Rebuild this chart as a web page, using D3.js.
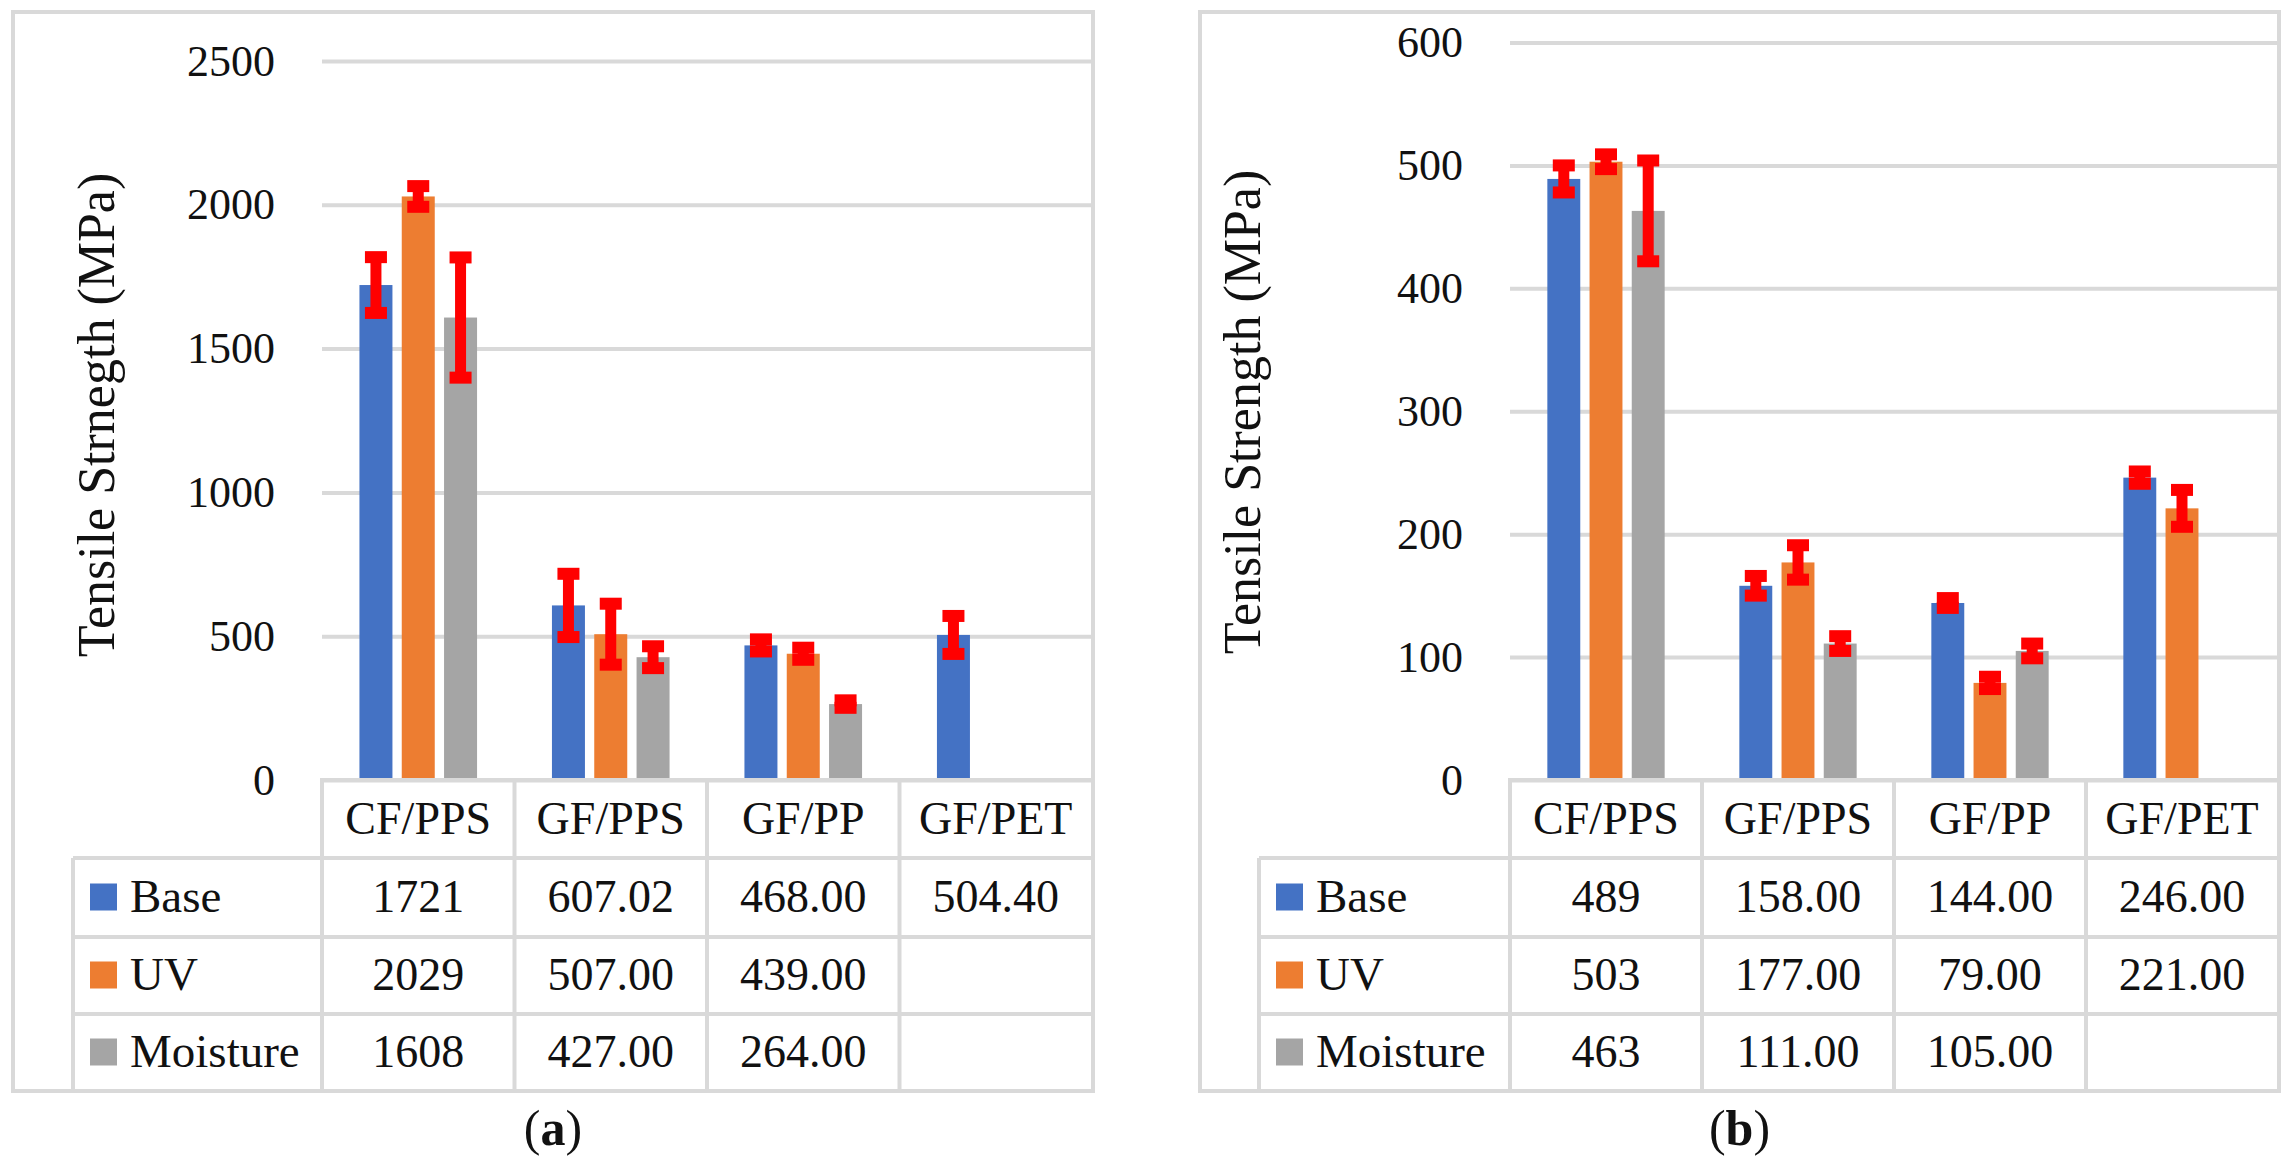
<!DOCTYPE html>
<html>
<head>
<meta charset="utf-8">
<script src="https://cdn.jsdelivr.net/npm/d3@7"></script>
<style>
  body { margin: 0; background: #fff; }
  svg text { font-family: "Liberation Serif", "DejaVu Serif", "Noto Serif", "Times New Roman", serif; fill: #111; }
</style>
</head>
<body>
<div id="chart"></div>
<script>
// ---- data ----
var categories = ["CF/PPS", "GF/PPS", "GF/PP", "GF/PET"];
var seriesNames = ["Base", "UV", "Moisture"];
var tableFormats = ["d", ".2f", ".2f", ".2f"];

// (a)
var baseA = [1721, 607.02, 468.00, 504.40];
var uvA = [2029, 507.00, 439.00, null];
var moistA = [1608, 427.00, 264.00, null];
var baseErrA = [97, 110, 21, 66];
var uvErrA = [36, 106, 21, null];
var moistErrA = [209, 38, 13, null];
var ticksA = [0, 500, 1000, 1500, 2000, 2500];

// (b)
var baseB = [489, 158.00, 144.00, 246.00];
var uvB = [503, 177.00, 79.00, 221.00];
var moistB = [463, 111.00, 105.00, null];
var baseErrB = [11, 8, 4, 5];
var uvErrB = [6, 14, 5, 15];
var moistErrB = [41, 6, 6, null];
var ticksB = [0, 100, 200, 300, 400, 500, 600];

// ---- style ----
var colors = ["#4472C4", "#ED7D31", "#A5A5A5"];
var gridColor = "#D9D9D9";
var errColor = "#FF0000";
var serif = "'Liberation Serif', 'DejaVu Serif', 'Noto Serif', serif";

var W = 2291, H = 1166;
var svg = d3.select("#chart").append("svg")
  .attr("width", W).attr("height", H)
  .attr("font-family", serif);

svg.append("rect").attr("width", W).attr("height", H).style("fill", "#fff");

var panels = [
  { left: 13, top: 12, right: 1093, bottom: 1091, plotL: 322, plotR: 1092, legendL: 73,
    yTop: 61, max: 2500, ticks: ticksA, titleX: 101, titleY: 415,
    title: "Tensile Strnegth (MPa)", label: "a",
    values: [baseA, uvA, moistA], errors: [baseErrA, uvErrA, moistErrA] },
  { left: 1200, top: 12, right: 2279, bottom: 1091, plotL: 1510, plotR: 2278, legendL: 1259,
    yTop: 42.5, max: 600, ticks: ticksB, titleX: 1247, titleY: 412,
    title: "Tensile Strength (MPa)", label: "b",
    values: [baseB, uvB, moistB], errors: [baseErrB, uvErrB, moistErrB] }
];

var axisY = 780;              // zero line / top of the data table
var rowLines = [858, 937, 1014];
var fontSize = 46;

var add_text = function(sel) {
  return sel.append("text").style("font-family", serif).style("fill", "#111");
};

var draw_panel = function(p) {
  var g = svg.append("g");

  var y = d3.scaleLinear().domain([0, p.max]).range([axisY, p.yTop]);
  var x0 = d3.scaleBand().domain(categories).range([p.plotL, p.plotR]).padding(0);
  var x1 = d3.scaleBand().domain(seriesNames).range([0, x0.bandwidth()])
    .paddingInner(0.22).paddingOuter(0.885);

  // outer frame
  g.append("rect")
    .attr("x", p.left).attr("y", p.top)
    .attr("width", p.right - p.left).attr("height", p.bottom - p.top)
    .style("fill", "none").style("stroke", gridColor).style("stroke-width", 4);

  // gridlines + tick labels
  var ax = g.append("g")
    .attr("transform", "translate(" + p.plotL + ",0)")
    .call(d3.axisLeft(y).tickValues(p.ticks).tickFormat(d3.format("d"))
      .tickSize(-(p.plotR - p.plotL)).tickPadding(47));
  ax.attr("font-family", serif).attr("font-size", 44);
  ax.select(".domain").remove();
  ax.selectAll(".tick line").style("stroke", gridColor).style("stroke-width", 4);
  ax.selectAll(".tick text")
    .style("font-size", "44px")
    .style("font-family", serif)
    .style("fill", "#111");

  // y axis title
  add_text(g)
    .attr("transform", "translate(" + p.titleX + "," + p.titleY + ") rotate(-90)")
    .attr("text-anchor", "middle")
    .attr("dy", "0.25em")
    .style("font-size", "52px")
    .text(p.title);

  // bars
  var flat = [];
  seriesNames.forEach(function(s, si) {
    categories.forEach(function(c, ci) {
      var v = p.values[si][ci];
      if (v != null) flat.push({ s: s, si: si, c: c, v: v, e: p.errors[si][ci] });
    });
  });

  g.selectAll(".bar").data(flat).enter().append("rect")
    .attr("class", "bar")
    .attr("x", function(d) { return x0(d.c) + x1(d.s); })
    .attr("width", x1.bandwidth())
    .attr("y", function(d) { return y(d.v); })
    .attr("height", function(d) { return axisY - y(d.v); })
    .style("fill", function(d) { return colors[d.si]; });

  // error bars
  var cx = function(d) { return x0(d.c) + x1(d.s) + x1.bandwidth() / 2; };
  var eb = g.selectAll(".err").data(flat).enter().append("g").attr("class", "err");
  eb.append("line")
    .attr("x1", cx).attr("x2", cx)
    .attr("y1", function(d) { return y(d.v + d.e); })
    .attr("y2", function(d) { return y(d.v - d.e); })
    .style("stroke", errColor).style("stroke-width", 11);
  [1, -1].forEach(function(sign) {
    eb.append("rect")
      .attr("x", function(d) { return cx(d) - 11; })
      .attr("y", function(d) { return y(d.v + sign * d.e) - 6; })
      .attr("width", 22).attr("height", 12)
      .style("fill", errColor);
  });

  // data table lines
  var tl = g.append("g").style("stroke", gridColor).style("stroke-width", 4);
  tl.append("line").attr("x1", p.plotL - 2).attr("x2", p.plotR)
    .attr("y1", axisY).attr("y2", axisY);
  rowLines.forEach(function(ry) {
    tl.append("line").attr("x1", p.legendL).attr("x2", p.plotR).attr("y1", ry).attr("y2", ry);
  });
  tl.append("line").attr("x1", p.legendL).attr("x2", p.legendL)
    .attr("y1", rowLines[0]).attr("y2", p.bottom);
  categories.forEach(function(c) {
    tl.append("line").attr("x1", x0(c)).attr("x2", x0(c)).attr("y1", axisY).attr("y2", p.bottom);
  });

  // header row
  var headerY = (axisY + rowLines[0]) / 2;
  categories.forEach(function(c) {
    add_text(g)
      .attr("x", x0(c) + x0.bandwidth() / 2)
      .attr("y", headerY)
      .attr("dy", "0.32em")
      .attr("text-anchor", "middle")
      .style("font-size", fontSize + "px")
      .text(c);
  });

  // rows
  var rowEdges = rowLines.concat([p.bottom]);
  seriesNames.forEach(function(s, si) {
    var ry = (rowEdges[si] + rowEdges[si + 1]) / 2;
    g.append("rect")
      .attr("x", p.legendL + 17).attr("y", ry - 14)
      .attr("width", 27).attr("height", 27)
      .style("fill", colors[si]);
    add_text(g)
      .attr("x", p.legendL + 57).attr("y", ry).attr("dy", "0.3em")
      .style("font-size", "47px")
      .text(s);
    categories.forEach(function(c, ci) {
      var v = p.values[si][ci];
      if (v == null) return;
      add_text(g)
        .attr("x", x0(c) + x0.bandwidth() / 2).attr("y", ry).attr("dy", "0.32em")
        .attr("text-anchor", "middle")
        .style("font-size", fontSize + "px")
        .text(d3.format(tableFormats[ci])(v));
    });
  });

  // caption (a) / (b)
  var cap = add_text(g)
    .attr("x", (p.left + p.right) / 2).attr("y", 1145)
    .attr("text-anchor", "middle")
    .style("font-size", "50px");
  cap.append("tspan").text("(");
  cap.append("tspan").style("font-weight", "bold").text(p.label);
  cap.append("tspan").text(")");
};

panels.forEach(draw_panel);
</script>
</body>
</html>
